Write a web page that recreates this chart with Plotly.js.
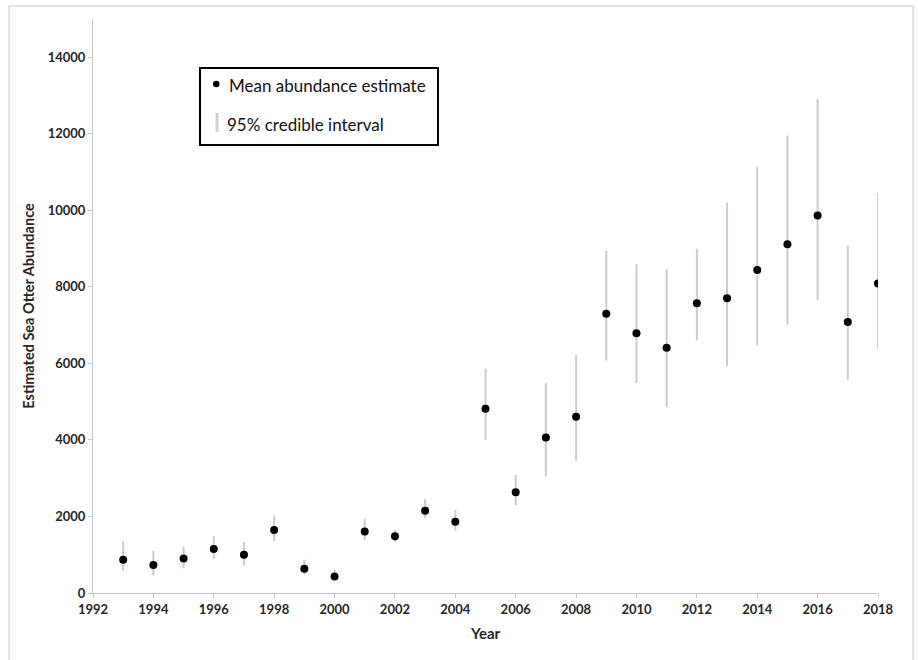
<!DOCTYPE html>
<html>
<head>
<meta charset="utf-8">
<script src="https://cdn.plot.ly/plotly-3.0.1.min.js"></script>
<style>
html,body{margin:0;padding:0;background:#fff;}
#chart{width:918px;height:660px;}
</style>
</head>
<body>
<div id="chart"></div>
<script>
// Data
const years = [1993,1994,1995,1996,1997,1998,1999,2000,2001,2002,2003,2004,2005,2006,2007,2008,2009,2010,2011,2012,2013,2014,2015,2016,2017,2018];
const meanEstimate = [870,730,900,1150,1000,1645,635,430,1610,1480,2150,1860,4815,2630,4065,4605,7300,6790,6410,7575,7705,8440,9115,9865,7085,8085];
const upper95 = [1340,1100,1220,1480,1340,2030,870,610,1940,1650,2455,2175,5860,3090,5485,6215,8950,8595,8465,8995,10205,11130,11955,12910,9080,10450];
const lower95 = [585,455,645,890,720,1350,470,330,1375,1330,1960,1630,4005,2290,3045,3455,6070,5485,4850,6600,5920,6470,7010,7645,5570,6375];

const xTickVals = [1992,1994,1996,1998,2000,2002,2004,2006,2008,2010,2012,2014,2016,2018];
const yTickVals = [0,2000,4000,6000,8000,10000,12000,14000];

const legendLabels = ["Mean abundance estimate", "95% credible interval"];

const plusErr = upper95.map((u,i)=>u-meanEstimate[i]);
const minusErr = meanEstimate.map((m,i)=>m-lower95[i]);

const FONT = "Lato, 'Open Sans', sans-serif";
const TXT = "#262626";

const trace = {
  x: years,
  y: meanEstimate,
  type: "scatter",
  mode: "markers",
  marker: {color: "#000", size: 8},
  error_y: {
    type: "data",
    symmetric: false,
    array: plusErr,
    arrayminus: minusErr,
    color: "#cccccc",
    thickness: 2,
    width: 0
  },
  showlegend: false,
  hoverinfo: "x+y"
};

// plot area geometry helpers for the legend box (paper coords)
const L = 93, T = 19, PW = 785, PH = 574.3;
const px = v => (v - L)/PW;
const py = v => (T + PH - v)/PH;

const layout = {
  width: 918,
  height: 660,
  margin: {l: L, r: 918-L-PW, t: T, b: 660-T-PH},
  paper_bgcolor: "#fff",
  plot_bgcolor: "#fff",
  font: {family: FONT, color: TXT},
  xaxis: {
    range: [1992, 2018],
    tickvals: xTickVals,
    ticktext: xTickVals.map(String),
    showgrid: false,
    zeroline: false,
    showline: true,
    linecolor: "#c6c6c6",
    linewidth: 1,
    ticks: "outside",
    ticklen: 4,
    tickcolor: "#c6c6c6",
    tickfont: {family: FONT, size: 13, weight: "bold", color: TXT},
    title: {text: "Year", font: {family: FONT, size: 15, weight: "bold", color: TXT}, standoff: 12}
  },
  yaxis: {
    range: [0, 15000],
    tickvals: yTickVals,
    ticktext: yTickVals.map(String),
    showgrid: false,
    zeroline: false,
    showline: true,
    linecolor: "#c6c6c6",
    linewidth: 1,
    ticks: "outside",
    ticklen: 4,
    tickcolor: "#c6c6c6",
    tickfont: {family: FONT, size: 13, weight: "bold", color: TXT},
    title: {text: "Estimated Sea Otter Abundance", font: {family: FONT, size: 14.5, weight: "bold", color: TXT}, standoff: 9}
  },
  shapes: [
    // outer frame
    {type: "rect", xref: "paper", yref: "paper", x0: px(9), x1: px(913), y0: py(680), y1: py(6),
     line: {color: "#c8c8c8", width: 1}, layer: "below"},
    // legend box
    {type: "rect", xref: "paper", yref: "paper", x0: px(200), x1: px(438), y0: py(145), y1: py(68),
     line: {color: "#000", width: 2}, fillcolor: "#fff"},
    // legend marker
    {type: "circle", xref: "paper", yref: "paper", x0: px(213), x1: px(219.5), y0: py(87.3), y1: py(80.8),
     line: {color: "#000", width: 0}, fillcolor: "#000"},
    // legend interval line
    {type: "line", xref: "paper", yref: "paper", x0: px(217), x1: px(217), y0: py(132), y1: py(113),
     line: {color: "#d0d0d0", width: 3}}
  ],
  annotations: [
    {xref: "paper", yref: "paper", x: px(227), y: py(86), xanchor: "left", yanchor: "middle",
     text: legendLabels[0], showarrow: false, font: {family: FONT, size: 17, color: "#111"}},
    {xref: "paper", yref: "paper", x: px(225), y: py(125), xanchor: "left", yanchor: "middle",
     text: legendLabels[1], showarrow: false, font: {family: FONT, size: 17, color: "#111"}}
  ]
};

Plotly.newPlot("chart", [trace], layout, {displayModeBar: false, staticPlot: true});
</script>
</body>
</html>
